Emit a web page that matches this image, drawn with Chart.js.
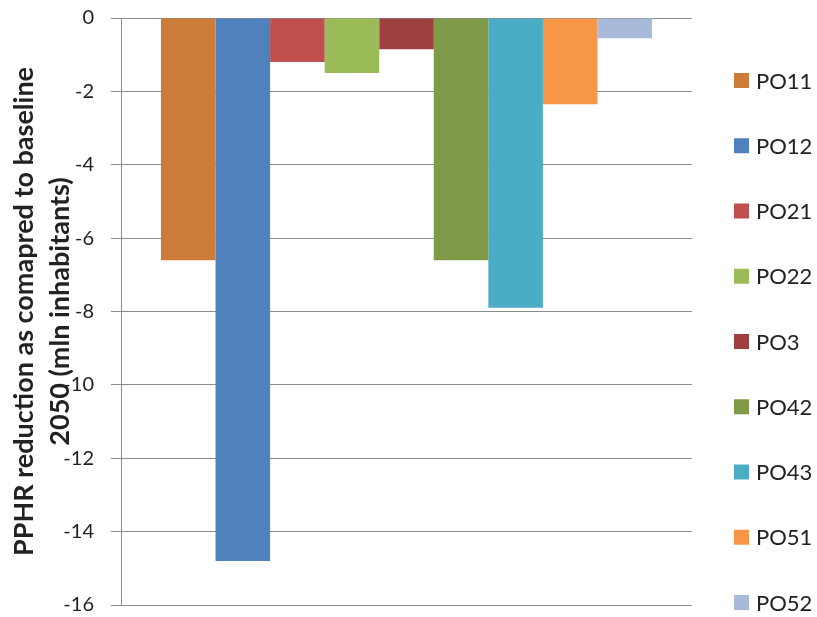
<!DOCTYPE html>
<html lang="en">
<head>
    <meta charset="UTF-8">
    <title>PPHR reduction as compared to baseline 2050</title>
    <script src="https://cdn.jsdelivr.net/npm/chart.js"></script>
    <style>
        html, body {
            margin: 0;
            padding: 0;
            background-color: #fff;
        }
        .chart-container {
            width: 817px;
            height: 617px;
        }
    </style>
</head>
<body>
    <div class="chart-container">
        <canvas id="pphrChart"></canvas>
    </div>

    <script>
        // --- Data ---
        const categories = [''];
        const seriesNames = ['PO11', 'PO12', 'PO21', 'PO22', 'PO3', 'PO42', 'PO43', 'PO51', 'PO52'];
        const reductions = [-6.6, -14.8, -1.2, -1.5, -0.85, -6.6, -7.9, -2.35, -0.55];
        const seriesColors = ['#CD7B39', '#4F81BD', '#C0504D', '#9BBB59', '#9E4040',
                              '#7F9A48', '#4BACC6', '#F79646', '#A9B9D9'];
        const yTickValues = [0, -2, -4, -6, -8, -10, -12, -14, -16];

        const textColor = '#222';
        const gridColor = '#8c8c8c';

        // Legend drawn as a single tall column on the right (Excel style spacing)
        const sideLegend = {
            id: 'sideLegend',
            afterDraw(chart, args, opts) {
                const ctx = chart.ctx;
                ctx.save();
                ctx.font = opts.font;
                ctx.textBaseline = 'middle';
                ctx.textAlign = 'left';
                chart.data.datasets.forEach((ds, i) => {
                    const y = opts.top + i * opts.step;
                    ctx.fillStyle = ds.backgroundColor;
                    ctx.fillRect(opts.x, y - opts.box / 2, opts.box, opts.box);
                    ctx.fillStyle = textColor;
                    ctx.fillText(ds.label, opts.x + opts.box + 7, y + 1);
                });
                ctx.restore();
            }
        };

        new Chart(document.getElementById('pphrChart'), {
            type: 'bar',
            data: {
                labels: categories,
                datasets: seriesNames.map((name, i) => ({
                    label: name,
                    data: [reductions[i]],
                    backgroundColor: seriesColors[i],
                    borderWidth: 0
                }))
            },
            options: {
                responsive: true,
                maintainAspectRatio: false,
                animation: false,
                categoryPercentage: 0.86,
                barPercentage: 1,
                layout: {
                    padding: { top: 18, right: 125, bottom: 12, left: 0 }
                },
                plugins: {
                    legend: { display: false },
                    tooltip: { enabled: false },
                    sideLegend: {
                        x: 734,
                        top: 80.5,
                        step: 65.25,
                        box: 15,
                        font: '22px Lato'
                    }
                },
                scales: {
                    x: {
                        display: false
                    },
                    y: {
                        min: -16,
                        max: 0,
                        afterBuildTicks: scale => {
                            scale.ticks = yTickValues.map(v => ({ value: v }));
                        },
                        afterFit: scale => {
                            scale.width = 121; // keep the title overlapping the tick labels like the original
                            scale.paddingTop = 0;
                            scale.paddingBottom = 0;
                        },
                        grid: {
                            color: gridColor,
                            lineWidth: 1,
                            tickLength: 10
                        },
                        border: {
                            color: gridColor
                        },
                        ticks: {
                            padding: 17,
                            color: textColor,
                            font: { family: 'Lato', size: 20 }
                        },
                        title: {
                            display: true,
                            text: ['PPHR reduction as comapred to baseline', '2050 (mln inhabitants)'],
                            color: textColor,
                            font: { family: 'Lato', size: 27, weight: 'bold', lineHeight: 1.35 },
                            padding: { top: 6, bottom: 0 }
                        }
                    }
                }
            },
            plugins: [sideLegend]
        });
    </script>
</body>
</html>
